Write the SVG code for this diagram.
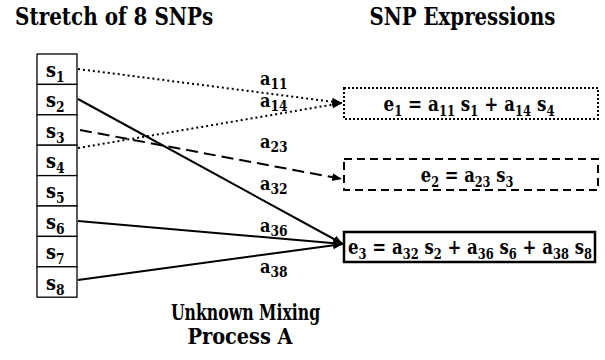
<svg xmlns="http://www.w3.org/2000/svg" width="605" height="360" viewBox="0 0 605 360">
<style>
text{fill:#000;font-weight:bold;font-family:'DejaVu Serif',serif}
.t{font-size:23.5px}
.b{font-size:21.5px}
.s{font-size:21px}
.a{font-size:19px}
.sub{font-size:14.5px}
.cell{fill:#fff;stroke:#000;stroke-width:1.3}
.c{fill:none;stroke:#000;stroke-width:2}
.dot{stroke-dasharray:2 3}
.dash{stroke-dasharray:12 6}
</style>
<defs>
<marker id="ah" viewBox="0 0 10 10" refX="10" refY="5" markerWidth="5" markerHeight="5" orient="auto" markerUnits="strokeWidth">
<path d="M0,1 L10,5 L0,9 z" fill="#000"/>
</marker>
</defs>
<g id="titles">
<text class="t" transform="translate(15,25) scale(0.85,1)">Stretch of 8 SNPs</text>
<text class="t" transform="translate(462.5,25) scale(0.84,1)" text-anchor="middle">SNP Expressions</text>
<text class="b" transform="translate(245.5,320) scale(0.73,1)" text-anchor="middle">Unknown Mixing</text>
<text class="b" transform="translate(240,344) scale(0.9,1)" text-anchor="middle">Process A</text>
</g>
<g id="snps">
<g id="s1"><rect class="cell" x="37" y="54" width="40" height="30.4"/><text class="s" transform="translate(46,77) scale(0.85,1)">s<tspan class="sub" dy="5">1</tspan></text></g>
<g id="s2"><rect class="cell" x="37" y="84.4" width="40" height="30.4"/><text class="s" transform="translate(46,107) scale(0.85,1)">s<tspan class="sub" dy="5">2</tspan></text></g>
<g id="s3"><rect class="cell" x="37" y="114.8" width="40" height="30.4"/><text class="s" transform="translate(46,138) scale(0.85,1)">s<tspan class="sub" dy="5">3</tspan></text></g>
<g id="s4"><rect class="cell" x="37" y="145.2" width="40" height="30.4"/><text class="s" transform="translate(46,168) scale(0.85,1)">s<tspan class="sub" dy="5">4</tspan></text></g>
<g id="s5"><rect class="cell" x="37" y="175.6" width="40" height="30.4"/><text class="s" transform="translate(46,198) scale(0.85,1)">s<tspan class="sub" dy="5">5</tspan></text></g>
<g id="s6"><rect class="cell" x="37" y="206" width="40" height="30.4"/><text class="s" transform="translate(46,229) scale(0.85,1)">s<tspan class="sub" dy="5">6</tspan></text></g>
<g id="s7"><rect class="cell" x="37" y="236.4" width="40" height="30.4"/><text class="s" transform="translate(46,259) scale(0.85,1)">s<tspan class="sub" dy="5">7</tspan></text></g>
<g id="s8"><rect class="cell" x="37" y="266.8" width="40" height="30.4"/><text class="s" transform="translate(46,290) scale(0.85,1)">s<tspan class="sub" dy="5">8</tspan></text></g>
</g>
<g id="connectors">
<line class="c dot" x1="78" y1="69" x2="342" y2="103" marker-end="url(#ah)"/>
<line class="c dot" x1="78" y1="148" x2="342" y2="103" marker-end="url(#ah)"/>
<line class="c dash" x1="80" y1="130" x2="342" y2="179" marker-end="url(#ah)"/>
<line class="c" x1="78" y1="99" x2="343" y2="244" marker-end="url(#ah)"/>
<line class="c" x1="78" y1="221" x2="343" y2="244" marker-end="url(#ah)"/>
<line class="c" x1="78" y1="280" x2="343" y2="244" marker-end="url(#ah)"/>
</g>
<g id="labels">
<text class="a" transform="translate(260,85) scale(0.85,1)">a<tspan class="sub" dy="4">11</tspan></text>
<text class="a" transform="translate(260,107) scale(0.85,1)">a<tspan class="sub" dy="4">14</tspan></text>
<text class="a" transform="translate(260,148) scale(0.85,1)">a<tspan class="sub" dy="4">23</tspan></text>
<text class="a" transform="translate(260,190) scale(0.85,1)">a<tspan class="sub" dy="4">32</tspan></text>
<text class="a" transform="translate(260,232) scale(0.85,1)">a<tspan class="sub" dy="4">36</tspan></text>
<text class="a" transform="translate(260,273) scale(0.85,1)">a<tspan class="sub" dy="4">38</tspan></text>
</g>
<g id="e1">
<rect x="344" y="88" width="254" height="31" fill="#fff" stroke="#000" stroke-width="2" stroke-dasharray="2 2"/>
<text class="s" transform="translate(469,111) scale(0.8,1)" text-anchor="middle">e<tspan class="sub" dy="5">1</tspan><tspan dy="-5"> = a</tspan><tspan class="sub" dy="5">11</tspan><tspan dy="-5"> s</tspan><tspan class="sub" dy="5">1</tspan><tspan dy="-5"> + a</tspan><tspan class="sub" dy="5">14</tspan><tspan dy="-5"> s</tspan><tspan class="sub" dy="5">4</tspan></text>
</g>
<g id="e2">
<rect x="344" y="159" width="254" height="31" fill="#fff" stroke="#000" stroke-width="2" stroke-dasharray="8 5"/>
<text class="s" transform="translate(467,182) scale(0.78,1)" text-anchor="middle">e<tspan class="sub" dy="5">2</tspan><tspan dy="-5"> = a</tspan><tspan class="sub" dy="5">23</tspan><tspan dy="-5"> s</tspan><tspan class="sub" dy="5">3</tspan></text>
</g>
<g id="e3">
<rect x="344" y="232" width="251" height="30" fill="#fff" stroke="#000" stroke-width="2.5"/>
<text class="s" transform="translate(470,254) scale(0.79,1)" text-anchor="middle">e<tspan class="sub" dy="5">3</tspan><tspan dy="-5"> = a</tspan><tspan class="sub" dy="5">32</tspan><tspan dy="-5"> s</tspan><tspan class="sub" dy="5">2</tspan><tspan dy="-5"> + a</tspan><tspan class="sub" dy="5">36</tspan><tspan dy="-5"> s</tspan><tspan class="sub" dy="5">6</tspan><tspan dy="-5"> + a</tspan><tspan class="sub" dy="5">38</tspan><tspan dy="-5"> s</tspan><tspan class="sub" dy="5">8</tspan></text>
</g>
</svg>
